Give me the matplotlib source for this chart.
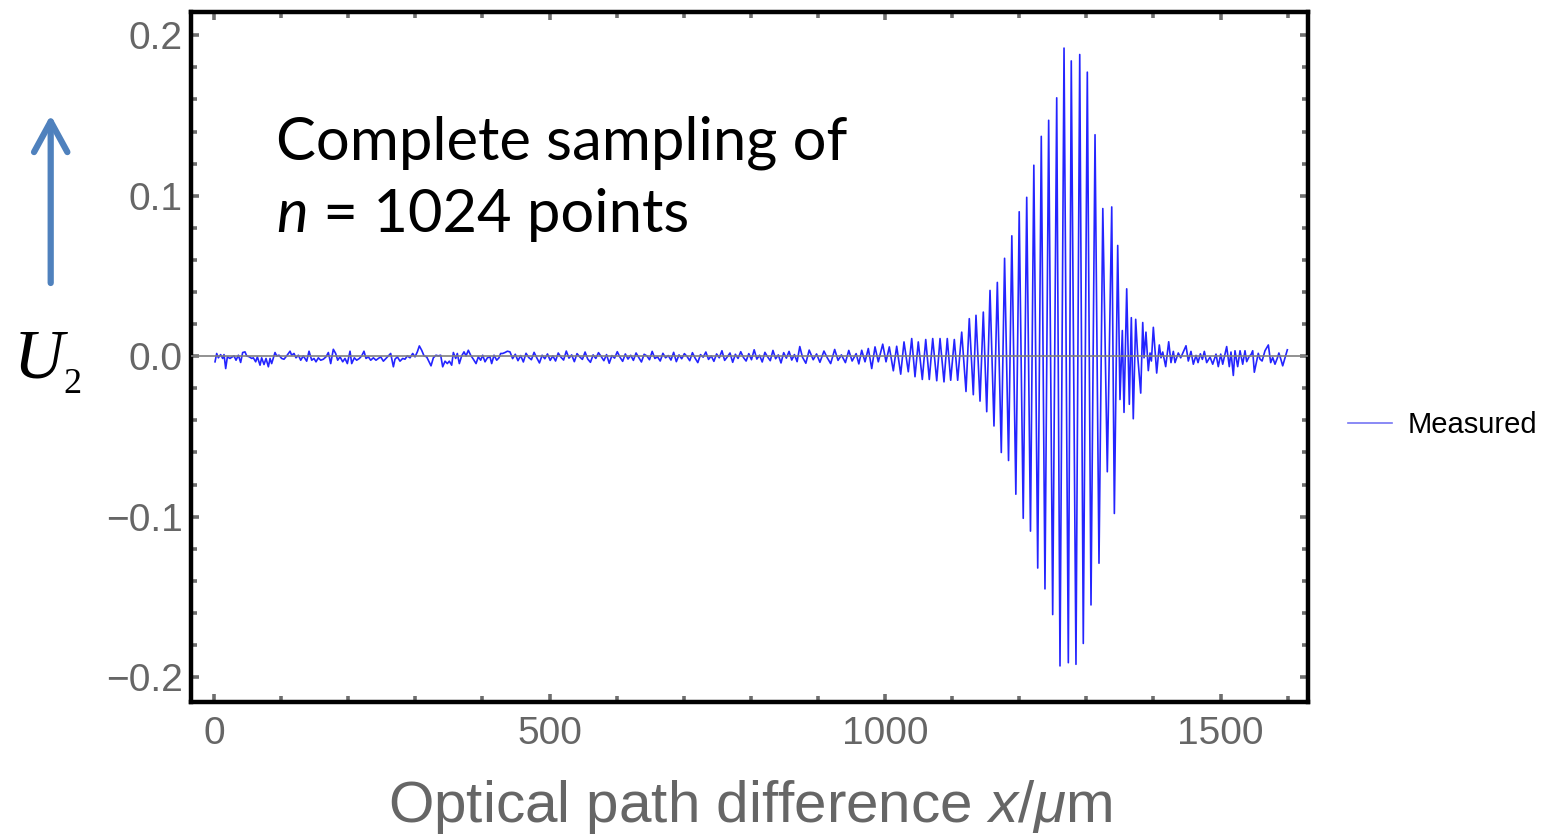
import numpy as np
import matplotlib
matplotlib.use("Agg")
import matplotlib.pyplot as plt
from matplotlib.ticker import MultipleLocator, FuncFormatter

plt.rcParams['font.family'] = ['Liberation Sans', 'DejaVu Sans']
plt.rcParams['mathtext.fontset'] = 'custom'
plt.rcParams['mathtext.rm'] = 'Liberation Sans'
plt.rcParams['mathtext.it'] = 'Liberation Sans:italic'

# --- data (x in um, U2 in units of 1e-3) ---
# quiet part, 0 .. 440 um
noise_x = [1.5, 4.0, 6.5, 9.9, 12.9, 14.9, 17.4, 19.9, 23.8, 27.3,
           29.8, 32.8, 36.3, 39.7, 42.7, 46.2, 48.7, 52.7, 56.1, 58.6,
           62.1, 64.6, 68.6, 71.0, 74.5, 77.5, 81.0, 83.5, 85.9, 90.9,
           93.4, 96.9, 100.8, 104.3, 108.3, 113.3, 115.7, 119.2, 122.2, 125.7,
           129.2, 133.1, 138.1, 141.6, 145.6, 149.0, 152.0, 155.5, 159.0, 162.9,
           166.9, 170.4, 173.9, 177.8, 181.3, 184.3, 187.8, 191.8, 195.2, 198.7,
           202.7, 205.2, 209.1, 212.6, 216.6, 220.1, 223.5, 226.5, 230.0, 233.5,
           237.5, 241.4, 244.9, 248.4, 252.4, 256.3, 259.8, 263.3, 267.3, 269.7,
           273.2, 277.2, 281.2, 284.6, 288.1, 292.1, 296.1, 299.6, 303.0, 306.0,
           309.5, 313.0, 316.9, 320.4, 323.4, 326.9, 330.8, 334.3, 337.8, 340.8,
           344.3, 347.7, 350.7, 354.2, 356.7, 360.2, 362.6, 365.6, 369.1, 372.6,
           375.6, 379.0, 382.5, 386.5, 390.5, 393.9, 397.4, 400.4, 403.9, 407.4,
           411.3, 413.8, 417.3, 421.3, 424.7, 427.2, 430.2, 433.7, 437.2, 441.1]
noise_u = [-3.5, 1.7, -1.0, 1.0, -1.4, 1.0, -7.7, -0.4, -1.4, -0.4,
           0.2, -2.5, 0.6, -3.9, 2.3, 2.7, 0.2, -0.4, -1.4, -1.0,
           -3.5, -0.4, -5.6, -1.0, -5.2, -1.4, -6.6, -1.4, -4.6, 2.3,
           0.2, 0.6, -1.4, -1.9, 0.2, 3.1, 0.6, 1.7, -1.0, 0.6,
           -2.5, 0.2, -3.1, 3.1, -2.5, -1.4, -3.5, -1.0, -2.5, -1.9,
           -0.4, 2.3, -4.6, 4.3, 1.7, -2.5, -0.4, -3.5, -1.4, -4.6,
           3.1, -4.6, -1.0, -2.5, -1.4, 0.2, 3.1, -1.4, -0.4, -2.5,
           -1.0, -2.5, -1.4, -0.4, -3.1, -1.4, 0.2, 1.7, -6.6, -1.9,
           -0.4, -3.1, -1.4, -1.9, 0.2, -1.0, 1.7, -0.4, 2.7, 6.4,
           3.7, 0.2, -0.4, -3.5, -6.0, -1.0, 0.6, 0.2, 0.6, -6.6,
           -3.1, -4.6, -3.1, -5.6, 2.3, -1.4, 1.7, -4.6, 0.2, 2.7,
           0.2, 3.7, 0.6, -1.9, -4.6, -0.4, -2.5, 0.6, -3.5, -1.0,
           -0.4, -4.6, 0.6, -2.5, -1.0, 1.7, 1.7, 2.3, 3.1, 2.7]

# quiet part, 445 .. 961 um
mid_x = [445, 449, 453, 457, 461, 465, 469, 473, 477, 481,
         485, 489, 493, 497, 501, 505, 509, 513, 517, 521,
         525, 529, 533, 537, 541, 545, 549, 553, 557, 561,
         565, 569, 573, 577, 581, 585, 589, 593, 597, 601,
         605, 609, 613, 617, 621, 625, 629, 633, 637, 641,
         645, 649, 653, 657, 661, 665, 669, 673, 677, 681,
         685, 689, 693, 697, 701, 705, 709, 713, 717, 721,
         725, 729, 733, 737, 741, 745, 749, 753, 757, 761,
         765, 769, 773, 777, 781, 785, 789, 793, 797, 801,
         805, 809, 813, 817, 821, 825, 829, 833, 837, 841,
         845, 849, 853, 857, 861, 865, 869, 873, 877,
         882, 887, 893, 898, 903, 909, 914, 919, 925, 930,
         935, 941, 946, 951, 957, 961]
mid_u = [-1.5, 1.2, -2.8, 0.4, -3.6, 1.8, -0.8, -2.2, 2.4, -1.0,
         -4.2, 0.6, -1.6, 1.4, -2.6, 0.2, -3.0, 2.0, -0.6, -2.4,
         3.2, -1.2, 0.8, -3.4, 1.6, -0.4, -2.0, 2.6, -1.8, -3.8,
         0.8, -1.4, 2.2, -0.2, -2.8, 1.0, -4.4, 0.4, -1.2, 2.8,
         -0.6, -3.2, 1.4, -1.8, 0.6, -2.6, 2.0, -0.8, -3.6, 1.2,
         0.2, -2.2, 3.0, -1.4, -0.4, -3.0, 1.8, -1.0, 0.4, -2.4,
         2.4, -3.4, 0.8, -1.6, 1.6, -0.2, -2.8, 2.2, -1.2, -4.0,
         1.0, -0.6, 2.6, -2.0, 0.2, -3.2, 1.4, -1.0, 3.4, -2.6,
         -0.4, 2.0, -3.8, 1.2, -1.4, 2.8, -0.8, -3.0, 1.6, -2.2,
         4.0, -1.8, 0.6, -3.6, 2.4, -0.4, -2.8, 3.6, -1.6, 0.8,
         -4.2, 2.2, -1.2, 3.0, -2.4, 1.0, -3.4, 6.0, -0.6,
         -4.4, 3.8, -2.2, 1.4, -3.8, 3.2, -1.0, -4.6, 4.2, -2.6,
         0.8, -4.0, 3.6, -3.0, 1.6, -4.8]

# interferogram burst and tail, turning points
burst_x = [965.3, 970.2, 975.1, 980.2, 985.1, 990.0, 996.6, 1001.5, 1006.4, 1012.4,
           1017.4, 1023.4, 1028.3, 1034.7, 1039.8, 1044.7, 1049.6, 1055.6, 1060.7, 1066.0,
           1071.1, 1077.1, 1082.0, 1087.9, 1092.8, 1097.9, 1103.3, 1108.3, 1114.3, 1120.7,
           1125.6, 1131.6, 1135.6, 1141.6, 1146.5, 1151.6, 1156.5, 1162.4, 1167.4, 1173.3,
           1178.2, 1184.1, 1189.0, 1195.0, 1200.0, 1206.0, 1211.2, 1216.8, 1221.8, 1227.6,
           1232.9, 1238.4, 1243.9, 1249.9, 1255.9, 1260.8, 1266.8, 1273.2, 1277.6, 1284.6,
           1290.2, 1295.5, 1301.5, 1307.0, 1313.0, 1318.9, 1324.6, 1331.3, 1337.9, 1341.8,
           1346.8, 1350.2, 1353.7, 1356.2, 1360.2, 1364.1, 1367.1, 1370.0, 1373.6, 1376.6,
           1381.1, 1384.1, 1386.1, 1388.9, 1392.4, 1395.0, 1397.0, 1399.9, 1404.9, 1408.8,
           1411.3, 1413.9, 1418.3, 1422.8, 1426.2, 1429.7, 1432.2, 1437.1, 1440.7, 1448.6,
           1452.0, 1456.0, 1459.5, 1463.5, 1466.5, 1470.0, 1473.0, 1475.9, 1479.4, 1484.4,
           1488.4, 1493.3, 1496.7, 1500.3, 1503.3, 1509.2, 1513.1, 1515.6, 1519.1, 1521.6,
           1525.6, 1529.1, 1533.1, 1536.5, 1539.0, 1542.9, 1545.5, 1548.0, 1550.4, 1556.3,
           1558.9, 1562.0, 1566.3, 1571.3, 1574.8, 1577.8, 1581.2, 1584.6, 1587.0, 1590.0,
           1592.7, 1599.6]
burst_u = [3.7, -3.5, 4.8, -7.7, 5.8, -3.5, 7.5, -3.5, 5.8, -9.1,
           6.2, -11.2, 8.9, -9.7, 11.0, -12.8, 8.9, -14.5, 10.4, -14.5,
           11.0, -15.3, 11.0, -16.0, 11.0, -15.0, 10.4, -15.0, 15.0, -22.0,
           23.4, -24.0, 25.5, -28.0, 27.5, -34.6, 41.0, -43.5, 46.0, -60.0,
           61.0, -65.0, 75.0, -86.0, 90.0, -101.0, 99.0, -109.0, 119.0, -132.0,
           137.0, -145.0, 147.0, -161.0, 161.0, -193.0, 192.0, -191.0, 184.0, -192.0,
           188.0, -179.0, 177.0, -155.0, 138.0, -129.0, 92.0, -72.0, 93.0, -98.0,
           69.0, -27.0, 16.0, -35.0, 42.0, -30.0, 24.0, -39.0, 23.0, 0.0,
           -23.0, 21.0, -1.0, 15.0, -9.0, 2.0, -3.0, 18.0, -10.5, 7.0,
           -1.0, 2.6, -6.5, 9.0, -4.0, 3.0, -4.0, 2.0, -1.0, 6.5,
           -3.0, 3.0, -5.0, 0.5, -4.0, 1.5, -2.0, 3.0, -4.0, -0.5,
           -5.0, 1.3, -6.5, 1.3, -5.0, 6.0, -6.5, 2.6, -12.0, 3.4,
           -6.5, 3.4, -5.0, 3.4, -3.4, 0.0, 1.0, 3.4, -10.0, 1.8,
           -1.8, -3.0, 3.4, 7.0, -4.0, -0.8, -5.0, -1.3, 2.0, -2.0,
           -6.0, 4.0]

x_um = np.array(noise_x + mid_x + burst_x)
u2 = np.array(noise_u + mid_u + burst_u) / 1000.0

# --- figure ---
W, H = 1541, 835
fig = plt.figure(figsize=(W / 100, H / 100), dpi=100)
ax = fig.add_axes([191 / W, 1 - 702 / H, (1308 - 191) / W, (702 - 12) / H])

ax.plot(x_um, u2, color='#2424ff', lw=1.2, label='Measured', zorder=2)
ax.axhline(0, color='#7f7f7f', lw=1.2, zorder=3)

ax.set_xlim(-34.3, 1630.4)
ax.set_ylim(-0.2155, 0.2145)

ax.set_xticks([0, 500, 1000, 1500])
ax.set_yticks([-0.2, -0.1, 0.0, 0.1, 0.2])
ax.xaxis.set_minor_locator(MultipleLocator(100))
ax.yaxis.set_minor_locator(MultipleLocator(0.02))
ax.yaxis.set_major_formatter(FuncFormatter(lambda v, p: f"{v:.1f}".replace('-', '\u2212')))

ax.tick_params(which='both', direction='in', top=True, right=True,
               color='#6e6e6e', width=2.6, labelsize=28, labelcolor='#666666')
ax.tick_params(which='major', length=6)
ax.tick_params(which='minor', length=4)
ax.tick_params(axis='x', pad=10)
ax.tick_params(axis='y', pad=6)

for s in ax.spines.values():
    s.set_linewidth(3.2)
    s.set_color('black')

leg = ax.legend(loc='center left', bbox_to_anchor=(1348 / W, 1 - 425 / H),
                bbox_transform=fig.transFigure, frameon=False, fontsize=21,
                handlelength=1.5, handletextpad=0.55, borderpad=0, borderaxespad=0)
leg.get_lines()[0].set_color('#7676f4')

# annotation text inside the plot
fig.text(276 / W, 1 - 160 / H, 'Complete sampling of', family='Lato',
         fontsize=43, va='baseline', color='black')
t_n = fig.text(276 / W, 1 - 232 / H, 'n', family='Lato', style='italic',
               fontsize=43, va='baseline', color='black')
ax.annotate(' = 1024 points', xy=(1, 0), xycoords=t_n, va='bottom', ha='left',
            family='Lato', fontsize=43, color='black', annotation_clip=False)

# y label with arrow
fig.text(14 / W, 1 - 378 / H, 'U', family='Liberation Serif', style='italic',
         fontsize=50, va='baseline')
fig.text(63 / W, 1 - 393 / H, '2', family='Liberation Serif', fontsize=26,
         va='baseline')
ax.annotate('', xy=(50.7 / W, 1 - 115 / H), xytext=(50.7 / W, 1 - 283 / H),
            xycoords='figure fraction', textcoords='figure fraction',
            arrowprops=dict(arrowstyle='->,head_length=2.2,head_width=1.2',
                            lw=4.5, color='#4f81bd', shrinkA=0, shrinkB=0,
                            capstyle='round', joinstyle='round'))

# x label
fig.text(750 / W, 1 - 822 / H, r'Optical path difference $x$/$\mathit{\mu}$m',
         ha='center', va='baseline', fontsize=42, color='#666666')

fig.savefig('out.png', dpi=100)
